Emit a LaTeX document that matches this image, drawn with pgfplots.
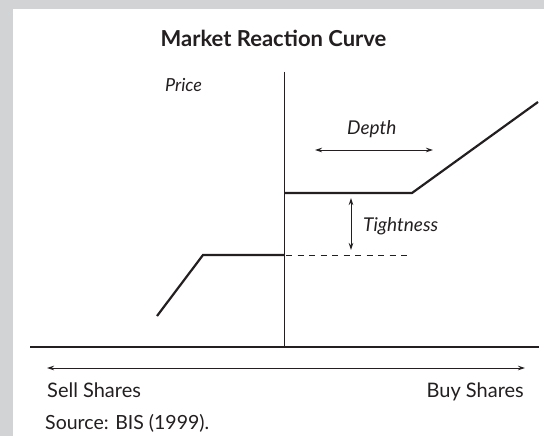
\documentclass[border=0pt]{standalone}
\usepackage{fontspec}
\setmainfont{Lato}
\usepackage{pgfplots}
\pgfplotsset{compat=1.18}
\usetikzlibrary{arrows.meta}
\definecolor{framegray}{HTML}{D1D3D4}
\definecolor{ink}{HTML}{231F20}
\begin{document}
\begin{tikzpicture}
\begin{axis}[scale only axis, width=544pt, height=436pt,
  xmin=0, xmax=544, ymin=0, ymax=436, y dir=reverse,
  axis lines=none, ticks=none, clip=false]
\fill[framegray] (axis cs:0,0) rectangle (axis cs:544,436);
\fill[white] (axis cs:12.5,9) rectangle (axis cs:544,436);
% axes
\addplot[ink, line width=1.1pt] coordinates {(284.5,72) (284.5,347)};
\addplot[ink, line width=1.1pt] coordinates {(30,347) (539,347)};
\addplot[ink, line width=0.9pt, {Stealth[length=7pt,width=4.5pt]}-{Stealth[length=7pt,width=4.5pt]}] coordinates {(47,368) (525,368)};
% curve
\addplot[ink, line width=2.2pt, line join=miter] coordinates {(157,316) (203,255) (284.5,255)};
\addplot[ink, line width=2.2pt, line join=miter] coordinates {(284.5,193) (412,193) (538,102)};
\addplot[ink, line width=0.9pt, dash pattern=on 6pt off 5.5pt] coordinates {(286,255) (408,255)};
% annotations
\addplot[ink, line width=0.9pt, {Stealth[length=7pt,width=4.5pt]}-{Stealth[length=7pt,width=4.5pt]}] coordinates {(351,198) (351,250)};
\addplot[ink, line width=0.9pt, {Stealth[length=7pt,width=4.5pt]}-{Stealth[length=7pt,width=4.5pt]}] coordinates {(315,150) (433,150)};
% texts
\node[anchor=base, text=ink, font=\fontsize{22}{25}\selectfont\bfseries, inner sep=0pt] at (axis cs:273.5,47) {Market Reaction Curve};
\node[anchor=base west, text=ink, font=\fontsize{18}{21}\selectfont\itshape, inner sep=0pt] at (axis cs:165,92) {Price};
\node[anchor=base west, text=ink, font=\fontsize{19}{22}\selectfont\itshape, inner sep=0pt] at (axis cs:347,135) {Depth};
\node[anchor=base west, text=ink, font=\fontsize{19}{22}\selectfont\itshape, inner sep=0pt] at (axis cs:363,231) {Tightness};
\node[anchor=base west, text=ink, font=\fontsize{20}{23}\selectfont, inner sep=0pt] at (axis cs:47,397) {Sell Shares};
\node[anchor=base east, text=ink, font=\fontsize{20}{23}\selectfont, inner sep=0pt] at (axis cs:524,397) {Buy Shares};
\node[anchor=base west, text=ink, font=\fontsize{19.5}{23}\selectfont, inner sep=0pt] at (axis cs:45,429) {Source: BIS (1999).};
\end{axis}
\end{tikzpicture}
\end{document}
